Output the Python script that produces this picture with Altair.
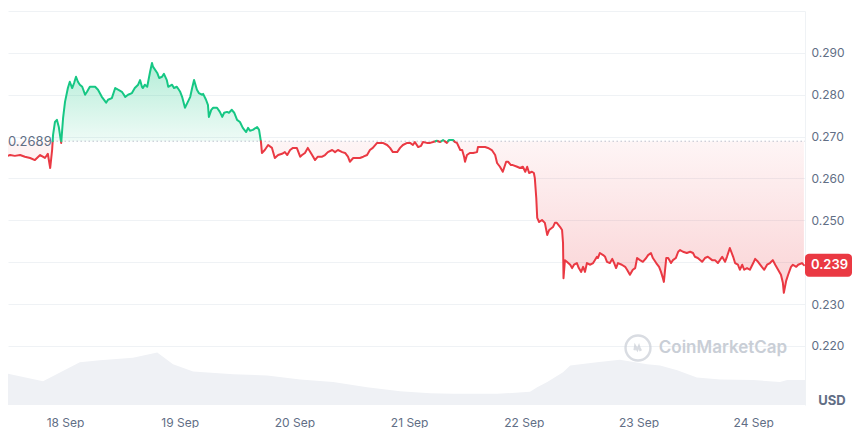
import json
import altair as alt
import pandas as pd

# ---------------- data ----------------
BASE = 0.2689  # reference (open) price, dotted line

# hours since 17 Sep 00:00
hours = [
    10.4, 11.4, 12.5, 13.5, 14.6, 15.6, 16.7, 17.7, 18.8, 19.8,
    20.4, 20.9, 21.3, 21.5, 21.9, 22.3, 22.7, 23.2, 23.6, 24.0,
    24.6, 25.0, 25.5, 25.9, 26.3, 26.7, 27.1, 27.6, 28.2, 28.6,
    29.2, 30.3, 30.9, 31.7, 32.6, 33.0, 33.8, 34.5, 35.1, 35.9,
    36.6, 37.2, 38.0, 38.6, 39.3, 39.7, 40.1, 40.3, 40.7, 41.2,
    41.8, 42.2, 42.4, 43.3, 43.7, 44.3, 44.7, 45.3, 45.6, 46.4,
    46.8, 47.4, 48.1, 48.5, 49.1, 49.7, 50.2, 50.6, 51.0, 51.6,
    52.0, 52.7, 52.9, 53.5, 53.9, 54.1, 54.6, 55.0, 55.8, 56.4,
    56.9, 57.3, 57.9, 58.3, 58.9, 59.4, 60.0, 60.6, 61.2, 61.9,
    62.3, 62.7, 63.3, 64.2, 64.6, 65.0, 65.2, 65.8, 66.5, 67.3,
    67.9, 68.6, 69.4, 70.0, 70.5, 71.1, 71.7, 72.5, 73.2, 73.6,
    74.2, 74.8, 75.7, 76.3, 76.9, 77.8, 78.4, 79.0, 79.9, 80.5,
    81.1, 82.0, 82.6, 83.2, 83.6, 84.3, 85.1, 85.7, 86.4, 87.2,
    87.8, 88.4, 89.3, 89.9, 90.5, 91.4, 92.0, 92.6, 93.5, 94.1,
    94.7, 95.6, 96.2, 96.8, 97.2, 97.9, 98.5, 98.9, 99.7, 100.4,
    101.0, 101.8, 102.5, 103.1, 103.9, 104.3, 105.2, 105.6, 106.0, 106.7,
    107.1, 107.5, 107.7, 108.1, 108.7, 109.4, 110.2, 110.4, 111.3, 111.9,
    112.5, 113.3, 114.0, 114.4, 115.0, 115.6, 116.3, 116.7, 117.3, 117.7,
    118.6, 119.2, 119.8, 120.3, 120.7, 121.1, 121.7, 122.1, 122.3, 122.6,
    122.8, 123.2, 123.8, 124.4, 124.9, 125.3, 126.1, 126.5, 126.9, 127.6,
    128.0, 128.2, 128.3, 128.6, 129.0, 129.7, 130.1, 130.5, 131.1, 131.5,
    132.0, 132.4, 132.8, 133.2, 133.9, 134.5, 135.3, 135.5, 135.9, 136.6,
    137.0, 137.4, 138.0, 138.5, 138.9, 139.3, 139.7, 140.5, 141.2, 141.6,
    142.2, 142.8, 143.3, 143.7, 144.3, 144.9, 145.6, 146.0, 146.6, 147.0,
    147.7, 148.3, 148.7, 149.1, 149.3, 149.8, 150.2, 150.8, 151.2, 151.8,
    152.3, 152.7, 153.3, 154.1, 154.8, 155.4, 155.8, 156.4, 157.3, 157.9,
    158.5, 159.4, 160.0, 160.6, 161.5, 162.1, 162.5, 163.1, 163.8, 164.2,
    164.8, 165.2, 165.7, 166.1, 166.7, 167.3, 168.0, 168.4, 169.0, 169.8,
    170.3, 170.9, 171.5, 172.1, 172.6, 173.2, 173.8, 174.2, 174.4, 174.9,
    175.3, 175.9, 176.3, 177.0, 177.4, 178.2, 178.6,
]

prices = [
    0.2656, 0.2652, 0.2656, 0.2654, 0.2656, 0.2652, 0.2649, 0.2644, 0.2656, 0.2649,
    0.2659, 0.2625, 0.2668, 0.2704, 0.2735, 0.2740, 0.2723, 0.2685, 0.2745, 0.2783,
    0.2816, 0.2831, 0.2816, 0.2828, 0.2843, 0.2831, 0.2824, 0.2819, 0.2800, 0.2807,
    0.2819, 0.2819, 0.2812, 0.2795, 0.2781, 0.2788, 0.2792, 0.2816, 0.2812, 0.2807,
    0.2795, 0.2800, 0.2804, 0.2816, 0.2824, 0.2835, 0.2819, 0.2816, 0.2824, 0.2819,
    0.2855, 0.2876, 0.2867, 0.2852, 0.2840, 0.2843, 0.2850, 0.2835, 0.2819, 0.2824,
    0.2816, 0.2819, 0.2807, 0.2795, 0.2769, 0.2783, 0.2795, 0.2816, 0.2835, 0.2812,
    0.2804, 0.2800, 0.2802, 0.2788, 0.2776, 0.2747, 0.2764, 0.2769, 0.2769, 0.2759,
    0.2747, 0.2757, 0.2759, 0.2757, 0.2764, 0.2757, 0.2740, 0.2735, 0.2721, 0.2711,
    0.2721, 0.2714, 0.2716, 0.2723, 0.2716, 0.2687, 0.2661, 0.2668, 0.2680, 0.2673,
    0.2649, 0.2656, 0.2659, 0.2663, 0.2656, 0.2668, 0.2673, 0.2673, 0.2652, 0.2656,
    0.2661, 0.2673, 0.2656, 0.2644, 0.2652, 0.2652, 0.2656, 0.2663, 0.2668, 0.2663,
    0.2668, 0.2663, 0.2661, 0.2652, 0.2640, 0.2649, 0.2649, 0.2649, 0.2652, 0.2656,
    0.2668, 0.2673, 0.2685, 0.2685, 0.2685, 0.2680, 0.2673, 0.2663, 0.2663, 0.2673,
    0.2680, 0.2685, 0.2685, 0.2680, 0.2687, 0.2675, 0.2678, 0.2687, 0.2685, 0.2685,
    0.2687, 0.2690, 0.2687, 0.2692, 0.2685, 0.2692, 0.2692, 0.2687, 0.2685, 0.2668,
    0.2668, 0.2652, 0.2640, 0.2656, 0.2661, 0.2661, 0.2663, 0.2675, 0.2675, 0.2675,
    0.2673, 0.2668, 0.2656, 0.2637, 0.2628, 0.2616, 0.2640, 0.2640, 0.2632, 0.2632,
    0.2628, 0.2625, 0.2628, 0.2616, 0.2628, 0.2613, 0.2616, 0.2613, 0.2601, 0.2554,
    0.2506, 0.2496, 0.2501, 0.2494, 0.2465, 0.2477, 0.2484, 0.2494, 0.2494, 0.2484,
    0.2477, 0.2446, 0.2362, 0.2405, 0.2401, 0.2394, 0.2386, 0.2394, 0.2398, 0.2386,
    0.2377, 0.2389, 0.2377, 0.2398, 0.2394, 0.2398, 0.2413, 0.2410, 0.2422, 0.2417,
    0.2413, 0.2401, 0.2398, 0.2408, 0.2398, 0.2386, 0.2398, 0.2394, 0.2389, 0.2382,
    0.2370, 0.2382, 0.2386, 0.2410, 0.2405, 0.2401, 0.2410, 0.2417, 0.2422, 0.2410,
    0.2398, 0.2389, 0.2377, 0.2362, 0.2353, 0.2410, 0.2410, 0.2398, 0.2405, 0.2410,
    0.2425, 0.2429, 0.2425, 0.2422, 0.2425, 0.2422, 0.2413, 0.2410, 0.2401, 0.2410,
    0.2413, 0.2405, 0.2405, 0.2398, 0.2413, 0.2401, 0.2413, 0.2434, 0.2413, 0.2398,
    0.2394, 0.2382, 0.2394, 0.2382, 0.2386, 0.2382, 0.2398, 0.2408, 0.2401, 0.2389,
    0.2382, 0.2394, 0.2398, 0.2405, 0.2394, 0.2382, 0.2370, 0.2351, 0.2327, 0.2356,
    0.2370, 0.2389, 0.2394, 0.2389, 0.2394, 0.2398, 0.2393,
]
assert len(hours) == len(prices)

# volume (millions USD), hours since 17 Sep 00:00
vol_hours = [10.4, 19.4, 27.1, 31.3, 38.2, 43.3, 46.6, 50.8, 59.2, 66.3,
             73.2, 80.1, 87.2, 94.1, 100.4, 105.2, 114.4, 121.3, 122.8, 124.9,
             128.2, 129.7, 135.3, 140.1, 145.8, 148.5, 152.1, 156.2, 161.1, 168.0,
             173.6, 175.1, 179.0]
vol_values = [50, 36, 65, 68, 72, 80, 62, 51, 47, 45,
              39, 35, 27, 21, 18, 17, 17, 20, 27, 35,
              50, 60, 65, 69, 62, 60, 53, 42, 39, 38,
              35, 38, 38]

day_ticks = [24, 48, 72, 96, 120, 144, 168]
day_labels = ["18 Sep", "19 Sep", "20 Sep", "21 Sep", "22 Sep", "23 Sep", "24 Sep"]
y_ticks = [0.22, 0.23, 0.24, 0.25, 0.26, 0.27, 0.28, 0.29, 0.30]

# ---------------- style / layout ----------------
GREEN = "#16c784"
RED = "#ea3943"
LABEL = "#616e85"
GRID = "#eff2f5"
FONT = "Inter"
W, H = 797, 394
X_DOMAIN = [12.07, 178.83]
Y_DOMAIN = [0.2059, 0.300]
VOL_DOMAIN = [0, 600]

# ---------------- derived tables ----------------
pts = []
for i, (h, p) in enumerate(zip(hours, prices)):
    if i:
        h0, p0 = hours[i - 1], prices[i - 1]
        if (p0 - BASE) * (p - BASE) < 0:
            t = (BASE - p0) / (p - p0)
            pts.append((h0 + t * (h - h0), BASE, True))
    pts.append((h, p, False))

area_df = pd.DataFrame([
    {"h": h, "up": max(p, BASE), "down": min(p, BASE), "base": BASE}
    for h, p, _ in pts
])

line_rows = []
seg = 0
side = "up" if prices[0] >= BASE else "down"
for h, p, cross in pts:
    line_rows.append({"h": h, "p": p, "seg": seg, "side": side})
    if cross:
        seg += 1
        side = "down" if side == "up" else "up"
        line_rows.append({"h": h, "p": p, "seg": seg, "side": side})
line_df = pd.DataFrame(line_rows)

first_cross = next(h for h, p, c in pts if c)
last = prices[-1]
vol_df = pd.DataFrame({"h": vol_hours, "v": vol_values})

# ---------------- scales / axes ----------------
x_scale = alt.Scale(domain=X_DOMAIN, nice=False, zero=False)
y_scale = alt.Scale(domain=Y_DOMAIN, nice=False, zero=False)

x_axis = alt.Axis(
    values=day_ticks,
    labelExpr=f"{json.dumps(day_labels)}[round(datum.value / 24) - 1]",
    grid=False, ticks=False, domain=False, labelPadding=12,
    labelColor=LABEL, labelFontSize=12, labelFont=FONT, title=None,
)
hidden = [v for v in y_ticks if abs(v - last) < 0.004 or v > Y_DOMAIN[1] - 0.005]
hide_expr = " || ".join(f"abs(datum.value - {v}) < 0.0005" for v in hidden) or "false"
y_axis = alt.Axis(
    orient="right", values=y_ticks,
    labelExpr=f"({hide_expr}) ? '' : format(datum.value, '.3f')",
    grid=True, gridColor=GRID, gridWidth=1, ticks=False,
    domain=True, domainColor=GRID, labelPadding=6,
    labelColor=LABEL, labelFontSize=12, labelFont=FONT, title=None,
)


def X(field="h"):
    return alt.X(f"{field}:Q", scale=x_scale, axis=x_axis)


def Y(field):
    return alt.Y(f"{field}:Q", scale=y_scale, axis=y_axis)


# ---------------- layers ----------------
volume = alt.Chart(vol_df).mark_area(clip=True, color="#eff1f5").encode(
    x=X(),
    y=alt.Y("v:Q", scale=alt.Scale(domain=VOL_DOMAIN, nice=False), axis=None),
)

one = pd.DataFrame({"k": [0]})
wm_text = alt.Chart(one).mark_text(
    text="CoinMarketCap", font=FONT, fontSize=17, fontWeight=600,
    color="#c9ced6", align="center", baseline="middle",
).encode(x=alt.value(715), y=alt.value(337))
wm_circle = alt.Chart(one).mark_point(
    shape="circle", size=620, filled=False, strokeWidth=2.4, color="#c9ced6",
).encode(x=alt.value(630), y=alt.value(337))
wm_m = alt.Chart(one).mark_point(
    shape="M -0.55 0.35 L -0.45 -0.3 L -0.1 0.3 L 0.15 -0.3 L 0.35 0.3 L 0.55 0.2",
    size=160, filled=False, strokeWidth=2.2, color="#c9ced6",
).encode(x=alt.value(630), y=alt.value(337))

green_grad = alt.Gradient(
    gradient="linear",
    stops=[alt.GradientStop(color="rgba(22,199,132,0.32)", offset=0),
           alt.GradientStop(color="rgba(22,199,132,0.07)", offset=1)],
    x1=1, x2=1, y1=0, y2=1,
)
red_grad = alt.Gradient(
    gradient="linear",
    stops=[alt.GradientStop(color="rgba(234,57,67,0.05)", offset=0),
           alt.GradientStop(color="rgba(234,57,67,0.22)", offset=1)],
    x1=1, x2=1, y1=0, y2=1,
)

green_area = alt.Chart(area_df).mark_area(clip=True, color=green_grad).encode(
    x=X(), y=Y("up"), y2="base:Q")
red_area = alt.Chart(area_df).mark_area(clip=True, color=red_grad).encode(
    x=X(), y=Y("down"), y2="base:Q")

base_df = pd.DataFrame({"x0": [first_cross], "x1": [X_DOMAIN[1]], "y": [BASE]})
base_rule = alt.Chart(base_df).mark_rule(
    clip=True, strokeDash=[1, 3], color="#9aa3b5", strokeWidth=1,
).encode(x=X("x0"), x2="x1:Q", y=Y("y"))

price_line = alt.Chart(line_df).mark_line(
    clip=True, strokeWidth=2, strokeJoin="round", strokeCap="round",
).encode(
    x=X(), y=Y("p"), detail="seg:N",
    color=alt.Color("side:N", scale=alt.Scale(domain=["up", "down"], range=[GREEN, RED]),
                    legend=None),
)

base_label_df = pd.DataFrame({"h": [X_DOMAIN[0]], "p": [BASE], "t": [f"{BASE:.4f}"]})
base_label = alt.Chart(base_label_df).mark_text(
    align="left", baseline="middle", font=FONT, fontSize=13, color=LABEL, dy=1,
).encode(x=X(), y=Y("p"), text="t:N")

box_df = pd.DataFrame({"top": [last + 0.00275], "bot": [last - 0.00275],
                       "p": [last], "t": [f"{last:.3f}"]})
price_box = alt.Chart(box_df).mark_rect(color=RED, cornerRadius=4).encode(
    x=alt.value(W), x2=alt.value(W + 47), y=Y("top"), y2="bot:Q")
price_text = alt.Chart(box_df).mark_text(
    align="left", baseline="middle", font=FONT, fontSize=13, fontWeight=600,
    color="white",
).encode(x=alt.value(W + 6), y=Y("p"), text="t:N")

usd = alt.Chart(one).mark_text(
    text="USD", font=FONT, fontSize=13, fontWeight="bold", color=LABEL,
    align="center", baseline="middle",
).encode(x=alt.value(W + 27), y=alt.value(H - 4))

price_layers = alt.layer(
    wm_text, wm_circle, wm_m, green_area, red_area, base_rule, price_line,
    base_label, price_box, price_text, usd,
)

chart = (
    alt.layer(volume, price_layers)
    .resolve_scale(y="independent")
    .properties(width=W, height=H, padding={"left": 0, "top": 3, "right": 0, "bottom": 0},
                background="white")
    .configure_view(stroke=None)
)

chart.save("out.html", embed_options={"renderer": "svg", "actions": False})
